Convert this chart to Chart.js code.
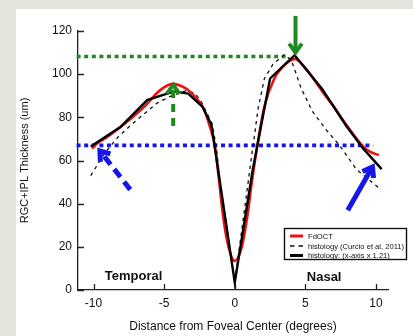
<!DOCTYPE html>
<html>
<head>
<meta charset="utf-8">
<script src="https://cdn.jsdelivr.net/npm/chart.js@4.4.1/dist/chart.umd.min.js"></script>
<style>
  html, body { margin: 0; padding: 0; }
  body { width: 413px; height: 336px; background: #e4e3dc; position: relative; overflow: hidden; }
  #panel { position: absolute; left: 16px; top: 9px; right: 0; bottom: 0; background: #fff; }
  #thickness-chart { position: absolute; left: 0; top: 0; }
</style>
</head>
<body>
<div id="panel"></div>
<canvas id="thickness-chart" width="413" height="336"></canvas>
<script>
// RGC+IPL thickness profiles, degrees from foveal center vs microns
var fdoctDeg = [-10.1, -9.9, -8.9, -7.8, -6.4, -5.3, -4.4, -3.5, -3.2, -2.2, -1.8, -1.4, -1.15, -0.85, -0.5, 0, 0.5, 0.85, 1.2, 1.6, 2.1, 2.8, 3.4, 3.9, 4.25, 5.1, 6.2, 7.0, 7.9, 9.1, 9.6, 10.2];
var fdoctUm  = [65.5, 67, 71.5, 77, 85, 92.5, 95.5, 93.5, 92, 84, 76.5, 66.5, 53, 35.5, 21.5, 13.5, 20, 32.5, 49.5, 67, 85, 98, 103.5, 106.2, 107, 102, 92, 85, 76.5, 66.4, 64, 62.5];

var curcioDeg = [-10.2, -9.2, -8.25, -7.2, -5.5, -4.6, -3.4, -2.8, -2.35, -1.6, -1.3, -1.05, 0, 1.05, 1.65, 2.1, 2.7, 3.5, 4.0, 4.7, 5.5, 6.5, 7.4, 8.6, 10.25];
var curcioUm  = [53, 63.5, 71, 77.3, 86.6, 89.6, 92.5, 91, 87, 77, 66, 51, 3.5, 55, 84, 98, 104.5, 109, 106.6, 93.5, 82.7, 74, 67.2, 56, 47];

var scaledDeg = [-10.2, -8.1, -6.2, -5.5, -4.3, -3.3, -2.3, -1.65, 0, 1.27, 2.5, 4.24, 6.2, 7.9, 9.1, 10.4];
var scaledUm  = [66.5, 75.5, 88, 89.5, 92, 91, 85, 76.5, 3.5, 55.6, 98, 108.8, 93, 76, 65.5, 56];

var seriesLabels = ['FdOCT', 'histology (Curcio et al, 2011)', 'histology: (x-axis x 1.21)'];

var xTicks = [-10, -5, 0, 5, 10];
var yTicks = [0, 20, 40, 60, 80, 100, 120];

// peak level (green) and edge level (blue): [thickness, x start, x end]
var peakLevel = [108.2, -11.2, 3.6];
var edgeLevel = [67, -11.2, 9.8];

// arrows: tail and tip in data units
var arrowTail = [[-4.36, 76], [4.3, 127], [-7.4, 46.5], [8.0, 37]];
var arrowTip  = [[-4.36, 95], [4.3, 110], [-9.55, 64.5], [9.75, 57]];

var regionNames = ['Temporal', 'Nasal'];
var regionDeg = [-9.2, 5.1];
var regionUm = [6.5, 6.0];

function toPoints(xs, ys) {
    return xs.map(function (x, i) { return { x: x, y: ys[i] }; });
}

var GREEN = '#1f8a1f';
var BLUE = '#1616e8';
var AXIS = '#222';
var FONT = '"Liberation Sans", Arial, sans-serif';

var arrowStyle = [
    { color: GREEN, width: 4, dash: [8, 6] },
    { color: GREEN, width: 4, dash: [] },
    { color: BLUE, width: 5, dash: [10, 6] },
    { color: BLUE, width: 5, dash: [] }
];

function pix(chart, x, y) {
    return [chart.scales.x.getPixelForValue(x), chart.scales.y.getPixelForValue(y)];
}

function drawArrow(ctx, chart, tail, tip, st) {
    var p0 = pix(chart, tail[0], tail[1]);
    var p1 = pix(chart, tip[0], tip[1]);
    var ang = Math.atan2(p1[1] - p0[1], p1[0] - p0[0]);
    var head = 11, spread = 0.62;
    ctx.save();
    ctx.strokeStyle = st.color;
    ctx.lineWidth = st.width;
    ctx.setLineDash(st.dash);
    ctx.beginPath();
    ctx.moveTo(p0[0], p0[1]);
    ctx.lineTo(p1[0] - Math.cos(ang) * 3, p1[1] - Math.sin(ang) * 3);
    ctx.stroke();
    ctx.setLineDash([]);
    ctx.lineJoin = 'miter';
    ctx.beginPath();
    ctx.moveTo(p1[0] - Math.cos(ang - spread) * head, p1[1] - Math.sin(ang - spread) * head);
    ctx.lineTo(p1[0], p1[1]);
    ctx.lineTo(p1[0] - Math.cos(ang + spread) * head, p1[1] - Math.sin(ang + spread) * head);
    ctx.stroke();
    ctx.restore();
}

function drawLevel(ctx, chart, lvl, color) {
    var a = pix(chart, lvl[1], lvl[0]);
    var b = pix(chart, lvl[2], lvl[0]);
    ctx.save();
    ctx.strokeStyle = color;
    ctx.lineWidth = 3.6;
    ctx.setLineDash([4, 3.6]);
    ctx.beginPath();
    ctx.moveTo(a[0], a[1]);
    ctx.lineTo(b[0], b[1]);
    ctx.stroke();
    ctx.restore();
}

var overlays = {
    id: 'overlays',
    beforeDatasetsDraw: function (chart) {
        var ctx = chart.ctx;
        drawLevel(ctx, chart, peakLevel, GREEN);
        drawLevel(ctx, chart, edgeLevel, BLUE);
    },
    afterDraw: function (chart) {
        var ctx = chart.ctx;
        var xs = chart.scales.x, ys = chart.scales.y;

        // tick marks point into the plot
        ctx.save();
        ctx.strokeStyle = AXIS;
        ctx.lineWidth = 1.3;
        ctx.beginPath();
        xs.ticks.forEach(function (t) {
            var p = Math.round(xs.getPixelForValue(t.value)) + 0.5;
            ctx.moveTo(p, xs.top);
            ctx.lineTo(p, xs.top - 6);
        });
        ys.ticks.forEach(function (t) {
            var p = Math.round(ys.getPixelForValue(t.value)) + 0.5;
            ctx.moveTo(ys.right, p);
            ctx.lineTo(ys.right + 6, p);
        });
        ctx.stroke();
        ctx.restore();

        for (var i = 0; i < arrowTail.length; i++) {
            drawArrow(ctx, chart, arrowTail[i], arrowTip[i], arrowStyle[i]);
        }

        // region names
        ctx.save();
        ctx.fillStyle = '#111';
        ctx.font = 'bold 13px ' + FONT;
        ctx.textBaseline = 'middle';
        regionNames.forEach(function (name, k) {
            var p = pix(chart, regionDeg[k], regionUm[k]);
            ctx.fillText(name, p[0], p[1]);
        });
        ctx.restore();

        // legend box
        var bx = 284.5, by = 228.5, bw = 122, bh = 31;
        ctx.save();
        ctx.fillStyle = '#fff';
        ctx.fillRect(bx, by, bw, bh);
        ctx.strokeStyle = '#111';
        ctx.lineWidth = 1.4;
        ctx.strokeRect(bx, by, bw, bh);
        ctx.font = '7.6px ' + FONT;
        ctx.fillStyle = '#111';
        ctx.textBaseline = 'middle';
        var rows = [236, 246, 255.5];
        chart.data.datasets.forEach(function (ds, k) {
            var y = rows[k];
            ctx.strokeStyle = ds.borderColor;
            ctx.lineWidth = k === 1 ? 1.4 : 3;
            ctx.setLineDash(k === 1 ? [4.5, 4] : []);
            ctx.beginPath();
            ctx.moveTo(290, y);
            ctx.lineTo(303, y);
            ctx.stroke();
            ctx.setLineDash([]);
            ctx.fillText(seriesLabels[k], 308, y + 0.5);
        });
        ctx.restore();
    }
};

var ctx = document.getElementById('thickness-chart').getContext('2d');
var chart = new Chart(ctx, {
    type: 'line',
    data: {
        datasets: [{
            label: seriesLabels[0],
            data: toPoints(fdoctDeg, fdoctUm),
            borderColor: '#ee1111',
            borderWidth: 2.6,
            cubicInterpolationMode: 'monotone',
            pointRadius: 0,
            order: 1
        }, {
            label: seriesLabels[1],
            data: toPoints(curcioDeg, curcioUm),
            borderColor: '#111',
            borderWidth: 1.3,
            borderDash: [3.5, 4],
            tension: 0,
            pointRadius: 0,
            order: 2
        }, {
            label: seriesLabels[2],
            data: toPoints(scaledDeg, scaledUm),
            borderColor: '#000',
            borderWidth: 2.4,
            tension: 0,
            pointRadius: 0,
            order: 0
        }]
    },
    options: {
        responsive: false,
        animation: false,
        devicePixelRatio: 1,
        layout: { padding: { top: 31, right: 25, left: 0, bottom: 0 } },
        plugins: { legend: { display: false }, tooltip: { enabled: false } },
        scales: {
            x: {
                type: 'linear',
                min: -11.1,
                max: 10.85,
                afterBuildTicks: function (s) { s.ticks = xTicks.map(function (v) { return { value: v }; }); },
                afterFit: function (s) { s.height = 46; },
                grid: { drawOnChartArea: false, drawTicks: false },
                border: { color: AXIS, width: 1.3 },
                ticks: { color: '#111', padding: 6, font: { family: FONT, size: 12 }, maxRotation: 0 },
                title: {
                    display: true,
                    text: 'Distance from Foveal Center (degrees)',
                    color: '#111',
                    font: { family: FONT, size: 12 },
                    padding: { top: 0, bottom: 2.3 }
                }
            },
            y: {
                min: 0,
                max: 120,
                afterBuildTicks: function (s) { s.ticks = yTicks.map(function (v) { return { value: v }; }); },
                afterFit: function (s) { s.width = 78; },
                grid: { drawOnChartArea: false, drawTicks: false },
                border: { color: AXIS, width: 1.3 },
                ticks: { color: '#111', padding: 6, font: { family: FONT, size: 12 } },
                title: {
                    display: true,
                    text: 'RGC+IPL Thickness (um)',
                    color: '#111',
                    font: { family: FONT, size: 11 },
                    padding: { top: 18.4, bottom: 0 }
                }
            }
        }
    },
    plugins: [overlays]
});
</script>
</body>
</html>
